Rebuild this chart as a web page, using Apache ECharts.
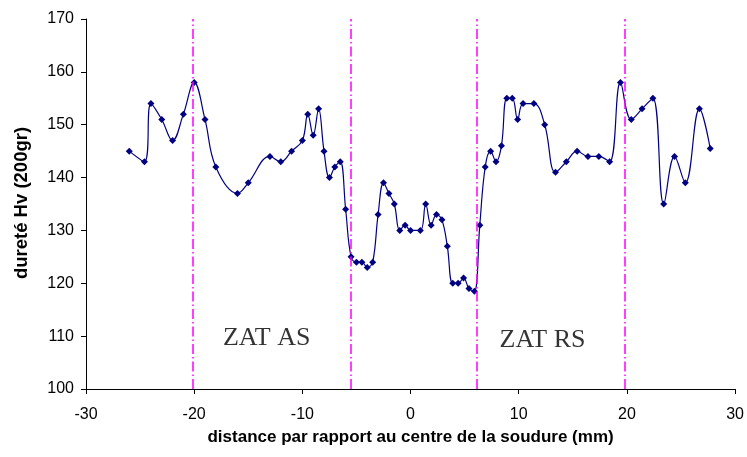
<!DOCTYPE html>
<html>
<head>
<meta charset="utf-8">
<script src="https://cdn.jsdelivr.net/npm/echarts@6/dist/echarts.min.js"></script>
<style>
html,body{margin:0;padding:0;background:#fff;}
#chart{width:747px;height:457px;}
</style>
</head>
<body>
<div id="chart"></div>
<script>
// distance (mm)
var distances = [-26, -24.6, -24, -23, -22, -21, -20, -19, -18, -16,
  -15, -13, -12, -11, -10, -9.5, -9, -8.5, -8, -7.5,
  -7, -6.5, -6, -5.5, -5, -4.5, -4, -3.5, -3, -2.5,
  -2, -1.5, -1, -0.5, 0, 0.9, 1.4, 1.9, 2.4, 2.9,
  3.4, 3.9, 4.4, 4.9, 5.4, 5.9, 6.4, 6.9, 7.4, 7.9,
  8.4, 8.9, 9.4, 9.9, 10.4, 11.4, 12.4, 13.4, 14.4, 15.4,
  16.4, 17.4, 18.4, 19.4, 20.4, 21.4, 22.4, 23.4, 24.4, 25.4,
  26.7, 27.7];
// hardness Hv (200gr)
var hardness = [145, 143, 154, 151, 147, 152, 158, 151, 142, 137,
  139, 144, 143, 145, 147, 152, 148, 153, 145, 140,
  142, 143, 134, 125, 124, 124, 123, 124, 133, 139,
  137, 135, 130, 131, 130, 130, 135, 131, 133, 132,
  127, 120, 120, 121, 119, 118.5, 131, 142, 145, 143,
  146, 155, 155, 151, 154, 154, 150, 141, 143, 145,
  144, 144, 143, 158, 151, 153, 155, 135, 144, 139,
  153, 145.5];
// zone boundaries (mm)
var boundaries = [-20.1, -5.5, 6.1, 19.8];
// zone labels
var zoneNames = ['ZAT AS', 'ZAT RS'];
var zoneX = [-13.3, 12.2];
var zoneY = [109.6, 109.3];

var xTicks = {min: -30, max: 30, interval: 10};
var yTicks = {min: 100, max: 170, interval: 10};

var chart = echarts.init(document.getElementById('chart'));
var pts = distances.map(function (d, i) { return [d, hardness[i]]; });
var zones = zoneNames.map(function (n, i) { return {name: n, value: [zoneX[i], zoneY[i]]}; });

chart.setOption({
  animation: false,
  backgroundColor: '#ffffff',
  grid: {left: 86, right: 11, top: 19, bottom: 68},
  xAxis: {
    type: 'value', min: xTicks.min, max: xTicks.max, interval: xTicks.interval,
    name: 'distance par rapport au centre de la soudure (mm)',
    nameLocation: 'middle', nameGap: 40,
    nameTextStyle: {fontFamily: 'Liberation Sans', fontWeight: 'bold', fontSize: 17, color: '#000'},
    axisLine: {show: true, onZero: false, lineStyle: {color: '#000', width: 1}},
    axisTick: {show: true, length: 5, lineStyle: {color: '#000'}},
    axisLabel: {fontFamily: 'Liberation Sans', fontSize: 16, color: '#000', margin: 18},
    splitLine: {show: false}
  },
  yAxis: {
    type: 'value', min: yTicks.min, max: yTicks.max, interval: yTicks.interval,
    axisLine: {show: true, onZero: false, lineStyle: {color: '#000', width: 1}},
    axisTick: {show: true, length: 5, lineStyle: {color: '#000'}},
    axisLabel: {fontFamily: 'Liberation Sans', fontSize: 16, color: '#000', margin: 12},
    splitLine: {show: false}
  },
  graphic: [{
    type: 'text', x: 22, y: 203, rotation: Math.PI / 2,
    style: {text: 'dureté Hv (200gr)', fontFamily: 'Liberation Sans', fontWeight: 'bold',
      fontSize: 18.5, fill: '#000', align: 'center', verticalAlign: 'middle'}
  }],
  series: [{
    type: 'line',
    data: pts,
    smooth: 0.4,
    symbol: 'diamond',
    symbolSize: 7,
    lineStyle: {color: '#000080', width: 1.2},
    itemStyle: {color: '#000080'},
    markLine: {
      silent: true, symbol: 'none',
      label: {show: false},
      lineStyle: {color: '#FF00FF', width: 1.5, type: [10, 3, 1.5, 3]},
      data: boundaries.map(function (b) { return {xAxis: b}; })
    },
    z: 3
  }, {
    type: 'scatter',
    data: zones,
    symbolSize: 0,
    label: {show: true, position: 'inside', formatter: '{b}',
      fontFamily: 'Liberation Serif', fontSize: 26, color: '#000'},
    silent: true
  }]
});
</script>
</body>
</html>
